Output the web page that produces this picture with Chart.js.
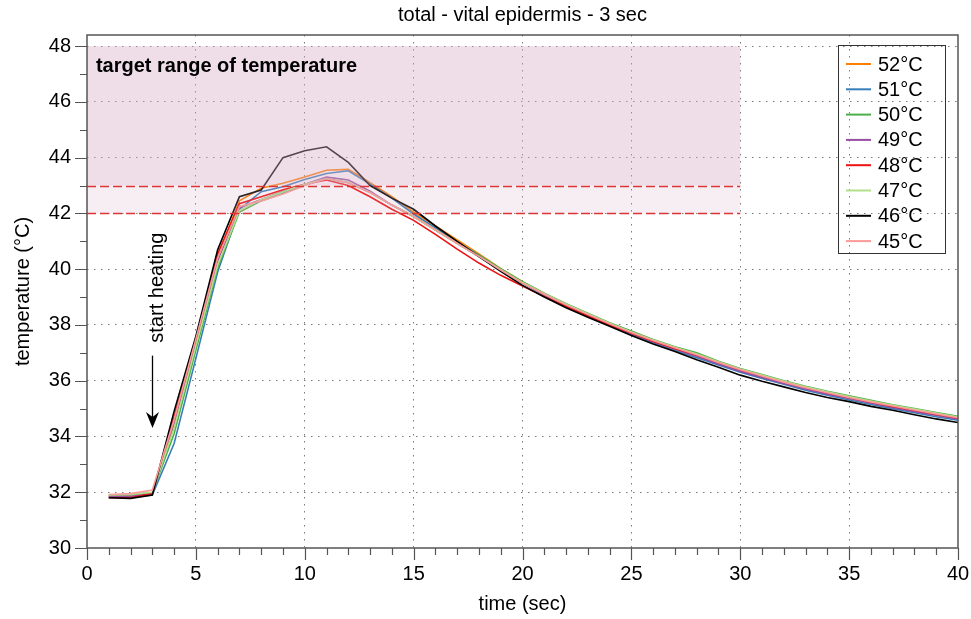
<!DOCTYPE html>
<html>
<head>
<meta charset="utf-8">
<script src="https://cdn.jsdelivr.net/npm/chart.js@4"></script>
<style>
  html, body { margin: 0; padding: 0; background: #fff; overflow: hidden; }
  #wrap { width: 971px; height: 619px; position: relative; }
  #chart { display: block; }
</style>
</head>
<body>
<div id="wrap"><canvas id="chart"></canvas></div>
<script>
const timeSec = [1, 2, 3, 4, 5, 6, 7, 8, 9, 10, 11, 12, 13, 14, 15, 16, 17, 18, 19, 20,
  21, 22, 23, 24, 25, 26, 27, 28, 29, 30, 31, 32, 33, 34, 35, 36, 37, 38, 39, 40];

const t52 = [31.85, 31.85, 31.98, 34.5, 37.5, 40.45, 42.45, 42.9, 43.08, 43.31, 43.55, 43.58,
  43.1, 42.6, 42.05, 41.55, 41.05, 40.55, 40.02, 39.55, 39.12, 38.72, 38.36, 38.02, 37.7, 37.4,
  37.12, 36.88, 36.62, 36.36, 36.14, 35.92, 35.72, 35.53, 35.36, 35.2, 35.05, 34.9, 34.76, 34.64];
const t51 = [31.82, 31.82, 31.9, 33.75, 36.8, 39.9, 42.15, 42.78, 42.96, 43.22, 43.43, 43.53,
  43.05, 42.55, 41.98, 41.48, 40.98, 40.5, 39.98, 39.5, 39.08, 38.68, 38.33, 37.98, 37.66, 37.36,
  37.08, 36.82, 36.56, 36.3, 36.08, 35.87, 35.66, 35.48, 35.31, 35.15, 35.0, 34.85, 34.71, 34.58];
const t50 = [31.9, 31.9, 31.98, 34.1, 37.1, 40.05, 42.05, 42.45, 42.72, 43.02, 43.25, 43.1,
  42.75, 42.3, 41.9, 41.42, 40.95, 40.5, 40.02, 39.55, 39.14, 38.76, 38.42, 38.08, 37.78, 37.48,
  37.22, 37.0, 36.7, 36.44, 36.22, 36.0, 35.8, 35.62, 35.46, 35.3, 35.14, 35.0, 34.86, 34.72];
const t49 = [31.85, 31.85, 31.95, 34.4, 37.35, 40.3, 42.2, 42.5, 42.8, 43.05, 43.3, 43.2,
  42.8, 42.3, 41.88, 41.4, 40.92, 40.45, 39.96, 39.5, 39.08, 38.7, 38.35, 38.02, 37.7, 37.4,
  37.14, 36.88, 36.6, 36.34, 36.12, 35.9, 35.7, 35.52, 35.36, 35.2, 35.04, 34.9, 34.76, 34.63];
const t48 = [31.8, 31.8, 31.95, 34.7, 37.5, 40.55, 42.35, 42.6, 42.85, 43.05, 43.2, 43.0,
  42.6, 42.15, 41.75, 41.25, 40.72, 40.22, 39.78, 39.4, 39.02, 38.66, 38.32, 38.0, 37.7, 37.42,
  37.16, 36.92, 36.66, 36.4, 36.18, 35.96, 35.76, 35.57, 35.4, 35.24, 35.08, 34.94, 34.8, 34.66];
const t47 = [31.9, 31.92, 32.0, 34.3, 37.25, 40.15, 42.1, 42.5, 42.78, 43.05, 43.25, 43.12,
  42.75, 42.3, 41.88, 41.4, 40.92, 40.46, 39.98, 39.52, 39.12, 38.74, 38.4, 38.06, 37.75, 37.46,
  37.2, 36.96, 36.68, 36.42, 36.2, 35.98, 35.78, 35.6, 35.43, 35.27, 35.12, 34.98, 34.84, 34.7];
const t46 = [31.8, 31.78, 31.9, 34.9, 37.6, 40.7, 42.6, 42.84, 44.0, 44.25, 44.39, 43.83,
  43.0, 42.55, 42.15, 41.55, 41.0, 40.45, 39.92, 39.42, 39.0, 38.62, 38.28, 37.95, 37.62, 37.32,
  37.05, 36.75, 36.48, 36.2, 35.98, 35.78, 35.58, 35.4, 35.25, 35.08, 34.94, 34.78, 34.63, 34.5];
const t45 = [31.92, 31.95, 32.08, 34.6, 37.5, 40.4, 42.25, 42.45, 42.7, 43.0, 43.25, 43.1,
  42.75, 42.3, 41.9, 41.42, 40.93, 40.46, 39.97, 39.5, 39.1, 38.72, 38.38, 38.04, 37.73, 37.44,
  37.18, 36.93, 36.65, 36.4, 36.17, 35.95, 35.75, 35.57, 35.4, 35.24, 35.09, 34.95, 34.81, 34.67];

const seriesLabels = ["52°C", "51°C", "50°C", "49°C", "48°C", "47°C", "46°C", "45°C"];
const seriesValues = [t52, t51, t50, t49, t48, t47, t46, t45];
const seriesColors = ["#ff7f00", "#377eb8", "#4daf4a", "#984ea3", "#ee1111", "#b2df8a", "#000000", "#fb9a99"];

const xTicks = [0, 5, 10, 15, 20, 25, 30, 35, 40];
const yTicks = [30, 32, 34, 36, 38, 40, 42, 44, 46, 48];

// target range bands (data units)
const rangeLow = 42, rangeHigh = 43, rangeTop = 48, rangeEnd = 30;
const chartTitle = "total - vital epidermis - 3 sec";

const FONT = '"Liberation Sans", Arial, Helvetica, sans-serif';
Chart.defaults.font.family = FONT;
Chart.defaults.color = "#000";

const decorations = {
  id: "decorations",
  afterDatasetsDraw(chart) {
    const { ctx, scales: { x, y } } = chart;
    const x0 = x.getPixelForValue(0), x1 = x.getPixelForValue(rangeEnd);
    const yTop = y.getPixelForValue(rangeTop);
    const yHi = y.getPixelForValue(rangeHigh);
    const yLo = y.getPixelForValue(rangeLow);
    ctx.save();
    // shaded target range, drawn over the lines
    ctx.fillStyle = "rgba(215,170,195,0.4)";
    ctx.fillRect(x0, yTop, x1 - x0, yHi - yTop);
    ctx.fillStyle = "rgba(215,170,195,0.2)";
    ctx.fillRect(x0, yHi, x1 - x0, yLo - yHi);
    // dashed limits
    ctx.strokeStyle = "#dd3535";
    ctx.lineWidth = 1.3;
    ctx.setLineDash([9, 4]);
    ctx.beginPath();
    ctx.moveTo(x0, Math.round(yHi) + 0.5); ctx.lineTo(x1, Math.round(yHi) + 0.5);
    ctx.moveTo(x0, Math.round(yLo) + 0.5); ctx.lineTo(x1, Math.round(yLo) + 0.5);
    ctx.stroke();
    ctx.setLineDash([]);

    // label in the band
    ctx.fillStyle = "#000";
    ctx.font = "bold 20px " + FONT;
    ctx.textAlign = "left";
    ctx.textBaseline = "middle";
    ctx.fillText("target range of temperature", x.getPixelForValue(0.41), y.getPixelForValue(47.28));

    // start heating note + arrow
    ctx.save();
    ctx.translate(x.getPixelForValue(3.25), y.getPixelForValue(39.34));
    ctx.rotate(-Math.PI / 2);
    ctx.font = "20px " + FONT;
    ctx.textAlign = "center";
    ctx.fillText("start heating", 0, 0);
    ctx.restore();

    const ax = Math.round(x.getPixelForValue(3)) + 0.5;
    const aTop = y.getPixelForValue(36.9), aTip = y.getPixelForValue(34.3);
    ctx.strokeStyle = "#000";
    ctx.lineWidth = 1.3;
    ctx.beginPath();
    ctx.moveTo(ax, aTop); ctx.lineTo(ax, aTip - 10);
    ctx.stroke();
    ctx.beginPath();
    ctx.moveTo(ax, aTip);
    ctx.lineTo(ax - 6.5, aTip - 16);
    ctx.lineTo(ax, aTip - 11);
    ctx.lineTo(ax + 6.5, aTip - 16);
    ctx.closePath();
    ctx.fillStyle = "#000";
    ctx.fill();
    ctx.restore();
  },
  afterDraw(chart) {
    const { ctx, chartArea: a, scales: { x, y } } = chart;
    ctx.save();
    // title, centred over the plot area
    ctx.fillStyle = "#000";
    ctx.font = "20px " + FONT;
    ctx.textAlign = "center";
    ctx.textBaseline = "middle";
    ctx.fillText(chartTitle, (a.left + a.right) / 2, 15);

    // frame
    ctx.strokeStyle = "#555";
    ctx.lineWidth = 1.5;
    ctx.strokeRect(a.left, a.top, a.right - a.left, a.bottom - a.top);

    // major / minor tick marks
    ctx.lineWidth = 1.2;
    ctx.beginPath();
    for (let v = x.min; v <= x.max; v++) {
      const px = Math.round(x.getPixelForValue(v)) + 0.5;
      const len = v % 5 === 0 ? 12 : 7;
      ctx.moveTo(px, a.bottom); ctx.lineTo(px, a.bottom + len);
    }
    for (let v = 30; v <= 48; v++) {
      const py = Math.round(y.getPixelForValue(v)) + 0.5;
      const len = v % 2 === 0 ? 12 : 7;
      ctx.moveTo(a.left, py); ctx.lineTo(a.left - len, py);
    }
    ctx.stroke();

    // legend box
    const lx = a.right - 120, ly = a.top + 10, lw = 107, lh = 208;
    ctx.strokeStyle = "#333";
    ctx.lineWidth = 1;
    ctx.strokeRect(Math.round(lx) + 0.5, Math.round(ly) + 0.5, lw, lh);
    ctx.font = "20px " + FONT;
    ctx.textAlign = "left";
    chart.data.datasets.forEach((ds, i) => {
      const ey = ly + 19 + i * 25.3;
      ctx.strokeStyle = ds.borderColor;
      ctx.lineWidth = 2;
      ctx.beginPath();
      ctx.moveTo(lx + 8, ey); ctx.lineTo(lx + 33, ey);
      ctx.stroke();
      ctx.fillStyle = "#000";
      ctx.fillText(ds.label, lx + 40, ey + 1);
    });
    ctx.restore();
  },
};

const datasets = seriesLabels.map((label, i) => ({
  label,
  data: timeSec.map((t, j) => ({ x: t, y: seriesValues[i][j] })),
  borderColor: seriesColors[i],
  backgroundColor: seriesColors[i],
  borderWidth: 1.6,
  pointRadius: 0,
  tension: 0,
  order: seriesLabels.length - i,
}));

new Chart(document.getElementById("chart"), {
  type: "line",
  data: { datasets },
  options: {
    responsive: true,
    maintainAspectRatio: false,
    animation: false,
    layout: { padding: { left: 0, right: 13, top: 35, bottom: 0 } },
    plugins: {
      legend: { display: false },
      tooltip: { enabled: false },
      title: { display: false },
    },
    scales: {
      x: {
        type: "linear",
        min: 0,
        max: 40,
        afterBuildTicks: (scale) => { scale.ticks = xTicks.map((v) => ({ value: v })); },
        afterFit: (scale) => { scale.height = 71; },
        ticks: { font: { size: 20 }, color: "#000", padding: 0, maxRotation: 0 },
        grid: {
          drawTicks: true,
          tickLength: 14,
          tickColor: "rgba(0,0,0,0)",
          lineWidth: 1,
          color: (c) => (c.tick && (c.tick.value === 0 || c.tick.value === 40) ? "rgba(0,0,0,0)" : "#7a7a7a"),
        },
        border: { display: false, dash: [1.5, 5.5] },
        title: { display: true, text: "time (sec)", font: { size: 20 }, color: "#000", padding: { top: 4, bottom: 3 } },
      },
      y: {
        type: "linear",
        min: 30,
        max: 48.4,
        afterBuildTicks: (scale) => { scale.ticks = yTicks.map((v) => ({ value: v })); },
        afterFit: (scale) => { scale.width = 87; },
        ticks: { font: { size: 20 }, color: "#000", padding: 16 },
        grid: {
          drawTicks: false,
          lineWidth: 1,
          color: (c) => (c.tick && c.tick.value === 30 ? "rgba(0,0,0,0)" : "#7a7a7a"),
        },
        border: { display: false, dash: [1.5, 5.5] },
        title: { display: true, text: "temperature (°C)", font: { size: 20 }, color: "#000", padding: { top: 11, bottom: 0 } },
      },
    },
  },
  plugins: [decorations],
});
</script>
</body>
</html>
